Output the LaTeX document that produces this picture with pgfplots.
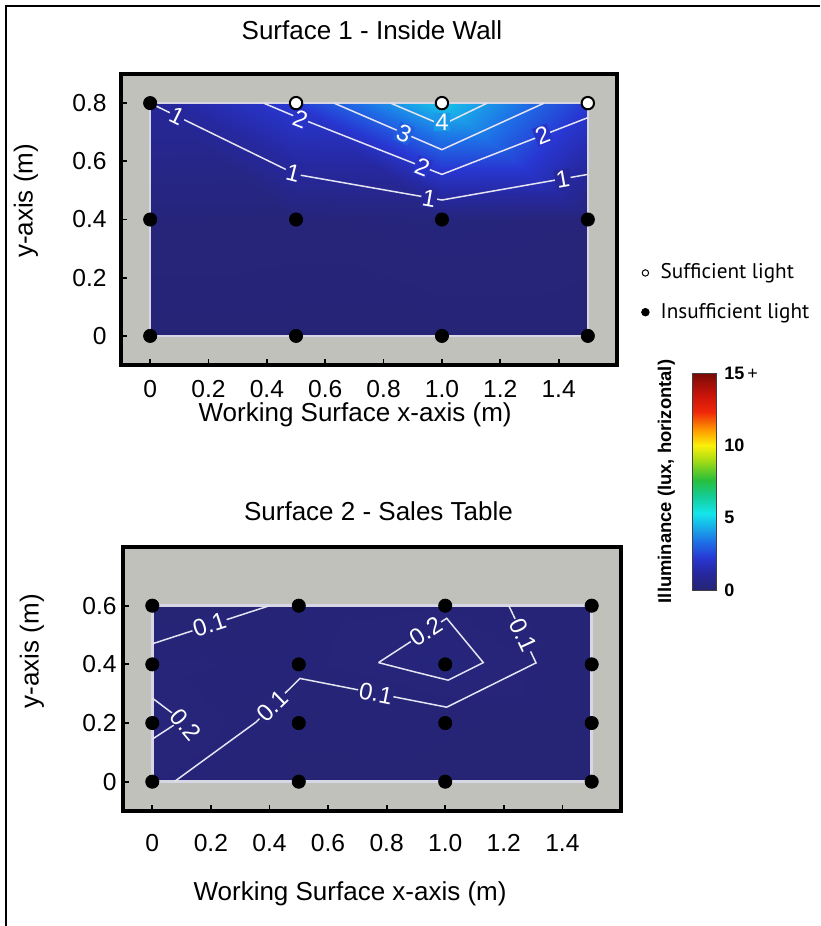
\documentclass[border=0pt]{standalone}
\usepackage{fontspec}
\setmainfont{Liberation Sans}
\newfontfamily\legfont{PT Sans}
\usepackage{pgfplots}
\pgfplotsset{compat=1.18}

\definecolor{bggray}{RGB}{193,193,188}
\definecolor{cline}{RGB}{228,228,242}
\definecolor{rim}{RGB}{214,214,228}
\definecolor{lv0}{RGB}{38,37,121}
\definecolor{lv1}{RGB}{38,39,152}
\definecolor{lv2}{RGB}{40,52,200}
\definecolor{lv3}{RGB}{33,95,224}
\definecolor{lv4}{RGB}{27,152,232}

\pgfplotsset{
  illum/.style={
    colormap={illum}{rgb255(0pt)=(38,36,115); rgb255(12pt)=(38,40,160);
      rgb255(22pt)=(40,55,210); rgb255(33pt)=(30,110,230);
      rgb255(53pt)=(20,230,235); rgb255(65pt)=(20,205,150);
      rgb255(76pt)=(40,190,60); rgb255(90pt)=(170,220,20);
      rgb255(100pt)=(250,240,10); rgb255(110pt)=(255,160,0);
      rgb255(123pt)=(240,40,10); rgb255(135pt)=(200,20,10);
      rgb255(150pt)=(120,10,5)},
    point meta min=0, point meta max=15},
  panel/.style={
    illum, scale only axis, axis on top,
    axis background/.style={fill=bggray},
    axis line style={line width=1.8pt, black},
    tick align=inside, tick pos=left,
    major tick length=3pt, tick style={line width=0.9pt, black},
    xmin=-0.1, xmax=1.6,
    xtick={0,0.2,0.4,0.6,0.8,1.0,1.2,1.4},
    xticklabels={0,0.2,0.4,0.6,0.8,1.0,1.2,1.4},
    tick label style={font=\fontsize{12.3}{14}\selectfont, inner sep=0pt},
    label style={font=\fontsize{13}{15}\selectfont},
    title style={font=\fontsize{13}{15}\selectfont, anchor=base},
    xlabel={Working Surface x-axis (m)},
    ylabel={y-axis (m)}},
  cl/.style={cline, line width=0.75pt, forget plot}
}
\tikzset{lbl/.style={text=white, inner sep=0.6pt, font=\fontsize{12}{12}\selectfont}}

\begin{document}
\begin{tikzpicture}
\useasboundingbox (0pt,0pt) rectangle (410pt,-463pt);
\draw[line width=1.2pt] (3pt,-463pt) -- (3pt,-3pt) -- (410pt,-3pt);

% Surface 1
\begin{axis}[panel,
  at={(60.5pt,-182.5pt)}, anchor=south west,
  width=248pt, height=145.5pt,
  ymin=-0.1, ymax=0.9,
  ytick={0,0.2,0.4,0.6,0.8}, yticklabels={0,0.2,0.4,0.6,0.8},
  yticklabel style={anchor=east, xshift=-7pt},
  xticklabel style={anchor=base, yshift=-16pt},
  title={Surface 1 - Inside Wall},
  title style={at={(axis description cs:0.506,1)}, yshift=11.3pt},
  xlabel style={at={(axis description cs:0.472,0)}, anchor=base, yshift=-28.3pt},
  ylabel style={at={(axis description cs:-0.1915,0.564)}, anchor=center},
  colorbar,
  colorbar style={
    at={(parent axis.south east)}, anchor=north west,
    xshift=29pt, yshift=-4pt,
    scale only axis, width=12pt, height=108.5pt,
    ytick={0,5,10,15}, yticklabels={0,5,10,{15\,\mdseries+}},
    major tick length=0pt,
    axis line style={line width=0.4pt, black!75},
    yticklabel style={font=\bfseries\fontsize{9}{10}\selectfont, anchor=west, inner sep=0pt, xshift=4pt},
    ylabel={Illuminance (lux, horizontal)},
    ylabel style={font=\bfseries\fontsize{9.2}{10}\selectfont, at={(axis description cs:-0.875,0.5)}, anchor=base}
  },
  legend style={at={(axis description cs:1.048,0.249)}, anchor=west,
    draw=none, fill=none, inner sep=0pt, row sep=8.6pt,
    font=\legfont\fontsize{10.6}{12.5}\selectfont,
    nodes={inner sep=1pt},
    /tikz/every odd column/.append style={column sep=4.5pt}},
  legend cell align=left
]
\addplot[surf, shader=interp, mesh/cols=4, point meta=\thisrow{z}, forget plot] table {
x y z
0 0 0.10
0.5 0 0.10
1.0 0 0.10
1.5 0 0.10
0 0.4 0.20
0.5 0.4 0.18
1.0 0.4 0.25
1.5 0.4 0.20
0 0.8 1.00
0.5 0.8 2.30
1.0 0.8 4.75
1.5 0.8 2.25
};
\addplot[rim, line width=1.3pt, forget plot] coordinates {(0,0)(1.5,0)(1.5,0.8)(0,0.8)(0,0)};
% contour lines
\addplot[cl] coordinates {(0,0.8)(0.5,0.555)(1.0,0.467)(1.5,0.555)};
\addplot[cl] coordinates {(0.389,0.8)(0.5,0.753)(1.0,0.555)(1.5,0.75)};
\addplot[cl] coordinates {(0.63,0.8)(1.0,0.64)(1.35,0.8)};
\addplot[cl] coordinates {(0.824,0.8)(1.0,0.725)(1.155,0.8)};
\node[lbl, fill=lv1, rotate=-26] at (axis cs:0.092,0.755) {1};
\node[lbl, fill=lv1, rotate=-14] at (axis cs:0.49,0.56) {1};
\node[lbl, fill=lv1, rotate=-10] at (axis cs:0.956,0.473) {1};
\node[lbl, fill=lv1, rotate=10] at (axis cs:1.414,0.54) {1};
\node[lbl, fill=lv2, rotate=-21.6] at (axis cs:0.515,0.745) {2};
\node[lbl, fill=lv2, rotate=-21.6] at (axis cs:0.933,0.581) {2};
\node[lbl, fill=lv2, rotate=21.3] at (axis cs:1.345,0.69) {2};
\node[lbl, fill=lv3, rotate=-23.4] at (axis cs:0.87,0.696) {3};
\node[lbl, fill=lv4] at (axis cs:1.0,0.735) {4};
% measurement points
\addplot[only marks, mark=*, mark size=3.1pt, mark options={fill=white, draw=black, line width=1pt},
  legend image code/.code={\draw[black, fill=white, line width=0.5pt] (0pt,0pt) circle (1.6pt);}]
  coordinates {(0.5,0.8)(1.0,0.8)(1.5,0.8)};
\addlegendentry{Sufficient light}
\addplot[only marks, mark=*, mark size=3.3pt, mark options={fill=black, draw=black},
  legend image code/.code={\fill[black] (0pt,0pt) circle (1.9pt);}]
  coordinates {(0,0.8)(0,0.4)(0.5,0.4)(1.0,0.4)(1.5,0.4)(0,0)(0.5,0)(1.0,0)(1.5,0)};
\addlegendentry{Insufficient light}
\end{axis}

% Surface 2
\begin{axis}[panel,
  at={(61.5pt,-405.5pt)}, anchor=south west,
  width=249pt, height=132pt,
  ymin=-0.1, ymax=0.8,
  ytick={0,0.2,0.4,0.6}, yticklabels={0,0.2,0.4,0.6},
  yticklabel style={anchor=east, xshift=-3pt},
  xticklabel style={anchor=base, yshift=-20.25pt},
  title={Surface 2 - Sales Table},
  title style={at={(axis description cs:0.513,1)}, yshift=7.25pt},
  xlabel style={at={(axis description cs:0.456,0)}, anchor=base, yshift=-44.5pt},
  ylabel style={at={(axis description cs:-0.183,0.605)}, anchor=center}
]
\addplot[surf, shader=interp, mesh/cols=4, point meta=\thisrow{z}, forget plot] table {
x y z
0 0 0.15
0.5 0 0.05
1.0 0 0.06
1.5 0 0.05
0 0.2 0.22
0.5 0.2 0.08
1.0 0.2 0.07
1.5 0.2 0.06
0 0.4 0.17
0.5 0.4 0.13
1.0 0.4 0.25
1.5 0.4 0.08
0 0.6 0.03
0.5 0.6 0.11
1.0 0.6 0.15
1.5 0.6 0.07
};
\addplot[rim, line width=1.3pt, forget plot] coordinates {(0,0)(1.5,0)(1.5,0.6)(0,0.6)(0,0)};
% contour lines
\addplot[cl] coordinates {(0,0.47)(0.4,0.6)};
\addplot[cl] coordinates {(0,0.285)(0.10,0.21)(0,0.145)};
\addplot[cl] coordinates {(0.075,0)(0.354,0.203)(0.504,0.352)(1.005,0.254)(1.31,0.405)(1.217,0.6)};
\addplot[cl] coordinates {(0.772,0.406)(1.005,0.557)(1.13,0.406)(1.01,0.346)(0.897,0.374)(0.772,0.406)};
\node[lbl, fill=lv0, rotate=18] at (axis cs:0.195,0.535) {0.1};
\node[lbl, fill=lv0, rotate=-50] at (axis cs:0.115,0.195) {0.2};
\node[lbl, fill=lv0, rotate=44] at (axis cs:0.41,0.258) {0.1};
\node[lbl, fill=lv0, rotate=-11] at (axis cs:0.763,0.301) {0.1};
\node[lbl, fill=lv0, rotate=-65] at (axis cs:1.266,0.5) {0.1};
\node[lbl, fill=lv0, rotate=33] at (axis cs:0.934,0.511) {0.2};
% measurement points
\addplot[only marks, mark=*, mark size=3.3pt, mark options={fill=black, draw=black}]
  coordinates {(0,0)(0.5,0)(1.0,0)(1.5,0)(0,0.2)(0.5,0.2)(1.0,0.2)(1.5,0.2)
               (0,0.4)(0.5,0.4)(1.0,0.4)(1.5,0.4)(0,0.6)(0.5,0.6)(1.0,0.6)(1.5,0.6)};
\end{axis}
\end{tikzpicture}
\end{document}
